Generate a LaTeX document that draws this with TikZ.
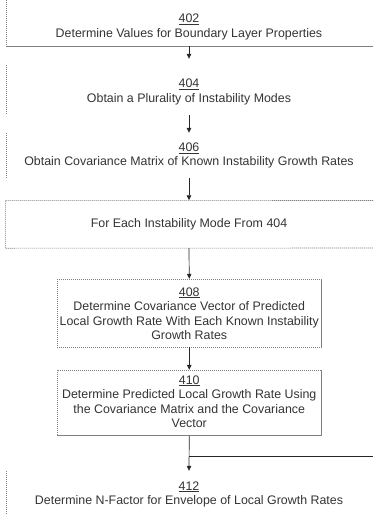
\documentclass[tikz,border=0pt]{standalone}
\usepackage{fontspec}
\setmainfont{Liberation Sans}
\usetikzlibrary{arrows.meta}
\begin{document}
\begin{tikzpicture}[x=1pt,y=-1pt,
  lbl/.style={align=center, font=\fontsize{12.4}{14.5}\selectfont, text=black!80, inner sep=0pt},
  frame/.style={draw=none, inner sep=0pt, minimum width=#1},
  boxline/.style={draw=black!50, dash pattern=on 1.2pt off 0.8pt, line width=0.6pt},
  flow/.style={draw=black!85, line width=0.7pt, -{Triangle[length=5pt,width=4.5pt]}},
  plain/.style={draw=black!85, line width=0.7pt}]
\useasboundingbox (0,0) rectangle (373,515);
% box frames
\node[frame=366pt, minimum height=46pt] (B402) at (189,23) {};
\node[frame=366pt, minimum height=48pt] (B404) at (189,89) {};
\node[frame=366pt, minimum height=45pt] (B406) at (189,155.5) {};
\node[frame=367pt, minimum height=47.5pt] (Bfor) at (189,224.25) {};
\node[frame=263.5pt, minimum height=68pt] (B408) at (189.25,313) {};
\node[frame=263.5pt, minimum height=65.5pt] (B410) at (189.25,402.75) {};
\node[frame=366pt, minimum height=44pt] (B412) at (189,493) {};
% visible frame edges
\draw[boxline] (B402.north west) -- (B402.south west) -- (B402.south east -| 373,0);
\draw[boxline] (B404.north west) -- (B404.south west);
\draw[boxline] (B406.north west) -- (B406.south west);
\draw[boxline] (373,200.5) -- (Bfor.north west) -- (Bfor.south west) -- (373,248);
\draw[boxline] (B408.north west) rectangle (B408.south east);
\draw[boxline] (B410.north west) rectangle (B410.south east);
\draw[boxline] (B412.north west) -- (B412.south west);
% texts
\node[lbl] (t402) at (189,27) {\underline{402}\\Determine Values for Boundary Layer Properties};
\node[lbl] (t404) at (189,92) {\underline{404}\\Obtain a Plurality of Instability Modes};
\node[lbl] (t406) at (189,155.5) {\underline{406}\\Obtain Covariance Matrix of Known Instability Growth Rates};
\node[lbl] (tfor) at (189,224) {For Each Instability Mode From 404};
\node[lbl] (t408) at (189.25,313.5) {\underline{408}\\Determine Covariance Vector of Predicted\\Local Growth Rate With Each Known Instability\\Growth Rates};
\node[lbl] (t410) at (189.25,401.5) {\underline{410}\\Determine Predicted Local Growth Rate Using\\the Covariance Matrix and the Covariance\\Vector};
\node[lbl] (t412) at (189,494.5) {\underline{412}\\Determine N-Factor for Envelope of Local Growth Rates};
% connectors
\draw[flow, shorten >=6pt] (B402.south) -- (B404.north);
\draw[flow, shorten <=2pt] (B404.south) -- (B406.north);
\draw[flow] (B406.south) -- (Bfor.north);
\draw[flow] (Bfor.south) -- (B408.north);
\draw[flow] (B408.south) -- (B410.north);
\draw[flow] (B410.south) -- (B412.north);
\coordinate (loopR) at (373,456);
\draw[plain] (B410.south |- loopR) -- (loopR);
\end{tikzpicture}
\end{document}
